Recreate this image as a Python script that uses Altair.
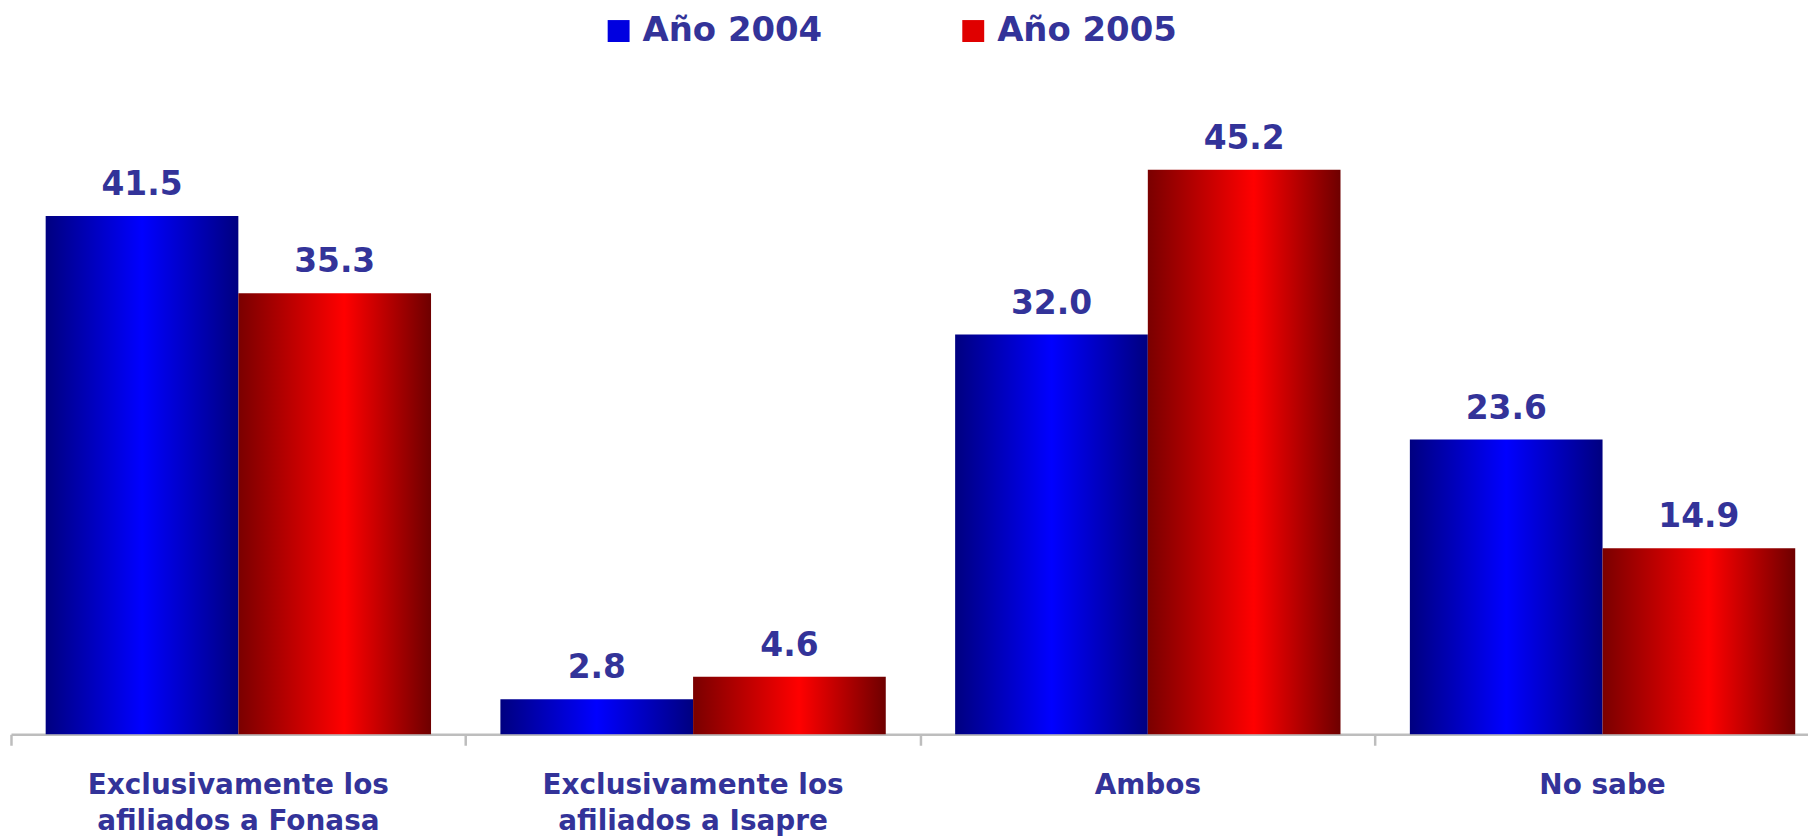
import altair as alt
import pandas as pd

categories = [
    "Exclusivamente los|afiliados a Fonasa",
    "Exclusivamente los|afiliados a Isapre",
    "Ambos",
    "No sabe",
]
series = ["Año 2004", "Año 2005"]
values_2004 = [41.5, 2.8, 32.0, 23.6]
values_2005 = [35.3, 4.6, 45.2, 14.9]

rows = []
for c, v in zip(categories, values_2004):
    rows.append({"cat": c, "serie": series[0], "valor": v})
for c, v in zip(categories, values_2005):
    rows.append({"cat": c, "serie": series[1], "valor": v})
df = pd.DataFrame(rows)

TXT = "#333399"
FONT = "DejaVu Sans"

grad_blue = {
    "gradient": "linear", "x1": 0, "x2": 1, "y1": 0, "y2": 0,
    "stops": [
        {"offset": 0, "color": "#000080"},
        {"offset": 0.5, "color": "#0000ff"},
        {"offset": 1, "color": "#000080"},
    ],
}
grad_red = {
    "gradient": "linear", "x1": 0, "x2": 1, "y1": 0, "y2": 0,
    "stops": [
        {"offset": 0, "color": "#7a0000"},
        {"offset": 0.55, "color": "#ff0000"},
        {"offset": 1, "color": "#6e0000"},
    ],
}

x_enc = alt.X(
    "cat:N",
    sort=categories,
    scale=alt.Scale(range=[0, 1826], paddingInner=0, paddingOuter=0),
    axis=alt.Axis(
        title=None,
        labelExpr="split(datum.label, '|')",
        bandPosition=0,
        labelAngle=0,
        labelAlign="center",
        labelBaseline="top",
        labelOverlap=False,
        labelLimit=600,
        labelFont=FONT,
        labelFontSize=28,
        labelFontWeight="bold",
        labelColor=TXT,
        labelLineHeight=37,
        labelPadding=26,
        tickSize=11,
        tickWidth=2.5,
        tickColor="#bdbdbd",
        domainColor="#bdbdbd",
        domainWidth=2.5,
        grid=False,
    ),
)
xoff = alt.XOffset(
    "serie:N",
    scale=alt.Scale(domain=series, paddingInner=0, paddingOuter=0.18),
)
y_enc = alt.Y("valor:Q", scale=alt.Scale(domain=[0, 50], nice=False, zero=True), axis=None)

legend_layer = (
    alt.Chart(df)
    .transform_filter("false")
    .mark_bar()
    .encode(
        color=alt.Color(
            "serie:N",
            scale=alt.Scale(domain=series, range=["#0000e0", "#e00000"]),
            legend=alt.Legend(
                title=None,
                orient="none",
                legendX=593,
                legendY=-96,
                direction="horizontal",
                padding=0,
                symbolType="square",
                symbolSize=484,
                symbolStrokeWidth=0,
                labelOffset=7,
                columnPadding=134,
                labelLimit=400,
                labelFont=FONT,
                labelFontSize=34,
                labelFontWeight="bold",
                labelColor=TXT,
            ),
        )
    )
)

bars04 = (
    alt.Chart(df)
    .transform_filter(alt.datum.serie == series[0])
    .mark_bar(color=grad_blue)
    .encode(x=x_enc, xOffset=xoff, y=y_enc)
)
bars05 = (
    alt.Chart(df)
    .transform_filter(alt.datum.serie == series[1])
    .mark_bar(color=grad_red)
    .encode(x=x_enc, xOffset=xoff, y=y_enc)
)
labels = (
    alt.Chart(df)
    .mark_text(font=FONT, fontSize=33, fontWeight="bold", color=TXT,
               baseline="alphabetic", align="center", dy=-21)
    .encode(x=x_enc, xOffset=xoff, y=y_enc, text=alt.Text("valor:Q", format=".1f"))
)

chart = (
    alt.layer(legend_layer, bars04, bars05, labels)
    .properties(
        width=1804,
        height=627,
        padding={"left": 3, "top": 100.5, "right": 0, "bottom": 101},
        autosize=alt.AutoSizeParams(type="none"),
        background="white",
    )
    .configure_view(strokeWidth=0)
)

chart.save("out.html", embed_options={"renderer": "svg", "actions": False})
